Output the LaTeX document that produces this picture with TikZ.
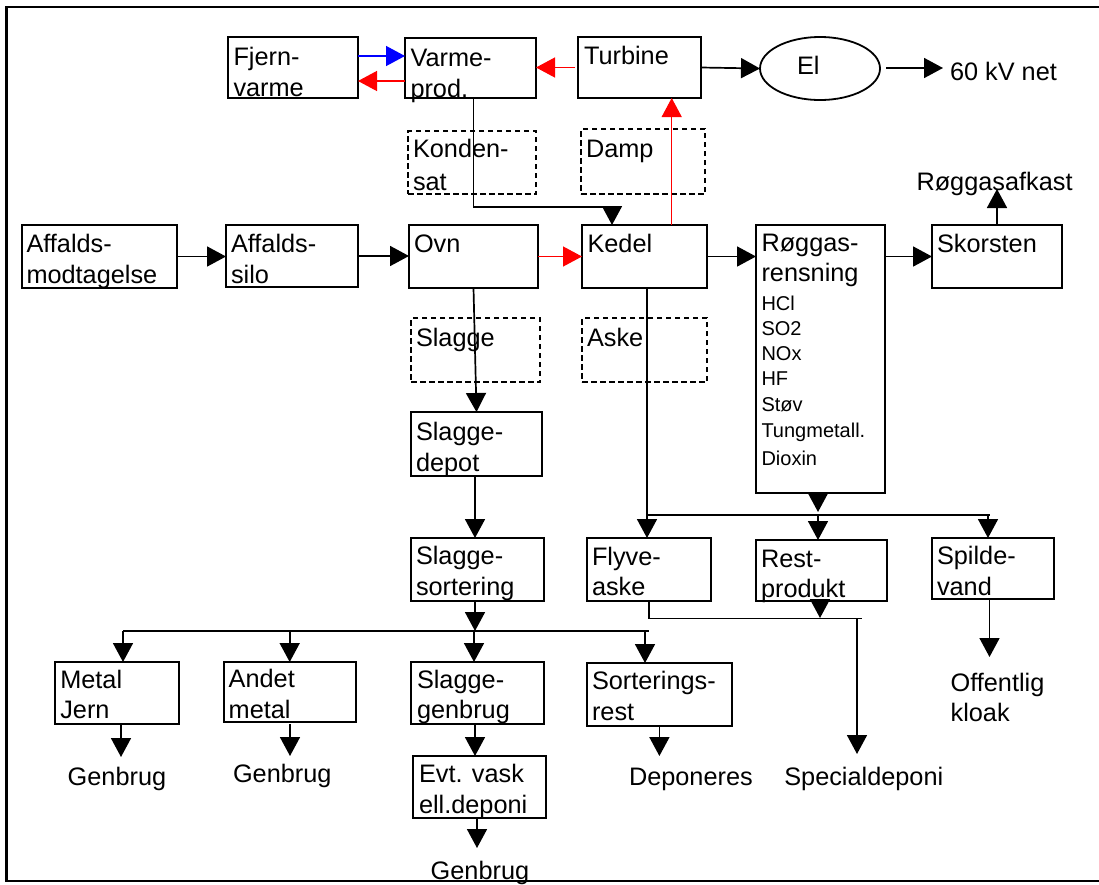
\documentclass[tikz,border=0pt]{standalone}
\usepackage{fontspec}
\setmainfont{Liberation Sans}
\usetikzlibrary{arrows.meta,calc,shapes.geometric}
\tikzset{
 box/.style={draw, line width=1.8pt, inner sep=0pt, outer sep=0pt},
 dbox/.style={box, line width=1.5pt, dash pattern=on 5.5pt off 3.5pt},
 txt/.style={inner sep=0pt, outer sep=0pt, anchor=base west, font=\fontsize{25.3}{30}\selectfont},
 stxt/.style={txt, font=\fontsize{20}{24}\selectfont},
 conn/.style={line width=1.7pt},
 arr/.style={conn, -{Triangle[length=19pt,width=20pt]}},
 redarr/.style={line width=1.3pt, red, -{Triangle[length=19pt,width=20pt]}},
 bluearr/.style={line width=1.4pt, blue, -{Triangle[length=19pt,width=20pt]}},
 frame/.style={line width=2.2pt}
}
\newcommand\mkbox[6]{\node[#6, minimum width={(#4)-(#2)}, minimum height={(#5)-(#3)}] (#1) at ({((#2)+(#4))/2},{((#3)+(#5))/2}) {};}
\newcommand\tx[4]{\node[txt] (#1) at (#2,#3) {#4};}
\newcommand\stx[4]{\node[stxt] (#1) at (#2,#3) {#4};}
\begin{document}
\begin{tikzpicture}[x=1pt,y=-1pt]
\useasboundingbox (0,0) rectangle (1099,884);
\draw[frame] (1099,7) -- (6.5,7) -- (6.5,881) -- (1099,881);

% boxes
\mkbox{fj}{228}{37}{358}{98}{box}
\mkbox{vp}{405}{38}{536}{98}{box}
\mkbox{tu}{578}{37}{701}{98}{box}
\mkbox{am}{22}{225}{177}{288}{box}
\mkbox{as}{226}{225}{358}{287}{box}
\mkbox{ov}{409}{225}{538}{288}{box}
\mkbox{ke}{582}{225}{707}{288}{box}
\mkbox{rg}{756}{225}{885}{493}{box}
\mkbox{sk}{932}{225}{1062}{288}{box}
\mkbox{sd}{411}{412}{542}{476}{box}
\mkbox{ss}{411}{538}{544}{601}{box}
\mkbox{fa}{587}{538}{711}{601}{box}
\mkbox{rp}{756}{540}{887}{601}{box}
\mkbox{sv}{932}{538}{1054}{599}{box}
\mkbox{mj}{55}{662}{179}{724}{box}
\mkbox{amt}{224}{662}{356}{722}{box}
\mkbox{sg}{411}{662}{544}{724}{box}
\mkbox{sr}{587}{663}{732}{726}{box}
\mkbox{ev}{413}{756}{546}{818}{box}
% dashed boxes
\mkbox{ko}{408}{131}{536}{194}{dbox}
\mkbox{da}{581}{129}{705}{194}{dbox}
\mkbox{sl}{411}{318}{540}{382}{dbox}
\mkbox{ak}{582}{318}{707}{382}{dbox}
% ellipse
\node[draw, ellipse, line width=1.8pt, inner sep=0pt, outer sep=0pt, minimum width=120pt, minimum height=63pt] (el) at (820,68.5) {};

% texts
\tx{tfj1}{233.5}{65}{Fjern-}
\tx{tfj2}{233.5}{96}{varme}
\tx{tvp1}{410.5}{66}{Varme-}
\tx{tvp2}{410.5}{97}{prod.}
\tx{ttu}{584}{64}{Turbine}
\tx{tel}{797}{74}{El}
\tx{net}{950}{80}{60 kV net}
\tx{tko1}{413}{157}{Konden-}
\tx{tko2}{413}{190}{sat}
\tx{tda}{586}{157}{Damp}
\tx{afk}{916.5}{190.7}{Røggasafkast}
\tx{tam1}{26.5}{252.5}{Affalds-}
\tx{tam2}{26.5}{283.5}{modtagelse}
\tx{tas1}{231}{252.5}{Affalds-}
\tx{tas2}{231}{283.5}{silo}
\tx{tov}{414}{252}{Ovn}
\tx{tke}{587.5}{252}{Kedel}
\tx{trg1}{761.5}{251.7}{Røggas-}
\tx{trg2}{761.5}{281.7}{rensning}
\stx{trg3}{761.5}{310}{HCl}
\stx{trg4}{761.5}{335}{SO2}
\stx{trg5}{761.5}{360}{NOx}
\stx{trg6}{761.5}{385}{HF}
\stx{trg7}{761.5}{411}{Støv}
\stx{trg8}{761.5}{437}{Tungmetall.}
\stx{trg9}{761.5}{465}{Dioxin}
\tx{tsk}{937}{252}{Skorsten}
\tx{tsl}{416}{346}{Slagge}
\tx{tak}{587}{346}{Aske}
\tx{tsd1}{416}{440}{Slagge-}
\tx{tsd2}{416}{471}{depot}
\tx{tss1}{416}{564}{Slagge-}
\tx{tss2}{416}{595}{sortering}
\tx{tfa1}{592}{565}{Flyve-}
\tx{tfa2}{592}{595}{aske}
\tx{trp1}{761}{567}{Rest-}
\tx{trp2}{761}{597}{produkt}
\tx{tsv1}{937}{564}{Spilde-}
\tx{tsv2}{937}{595}{vand}
\tx{tof1}{950.6}{691.7}{Offentlig}
\tx{tof2}{950.6}{721.7}{kloak}
\tx{tmj1}{60.3}{688}{Metal}
\tx{tmj2}{60.3}{718}{Jern}
\tx{tamt1}{228.7}{687.7}{Andet}
\tx{tamt2}{228.7}{718.3}{metal}
\tx{tsg1}{417}{688.3}{Slagge-}
\tx{tsg2}{417}{718.3}{genbrug}
\tx{tsr1}{592}{689.3}{Sorterings-}
\tx{tsr2}{592}{720}{rest}
\tx{tev1}{419}{782.7}{Evt. vask}
\tx{tev2}{419}{813.3}{ell.deponi}
\tx{gen1}{67.7}{785}{Genbrug}
\tx{gen2}{233}{782.7}{Genbrug}
\tx{gen3}{430.7}{879}{Genbrug}
\tx{dep}{629}{785}{Deponeres}
\tx{spd}{784.3}{785}{Specialdeponi}

% helper coordinates
\coordinate (netin) at (943,68);
\coordinate (elout) at (886,68);
\coordinate (afkin) at (997,189);
\coordinate (k1) at (473.5,207);
\coordinate (k2) at (620,207);
\coordinate (k3) at (612,207);
\coordinate (kt) at (671.7,0);
\coordinate (cs) at (475,0);
\coordinate (b1) at (123,631);
\coordinate (b2) at (649,631);
\coordinate (d2) at (289.7,631);
\coordinate (d3) at (474,631);
\coordinate (d4) at (645,631);
\coordinate (u1) at (647,515);
\coordinate (u2) at (990,515);
\coordinate (u3) at (818,515);
\coordinate (u4) at (988,515);
\coordinate (rgend) at (818,512);
\coordinate (w1) at (649,618.5);
\coordinate (w2) at (862,618.5);
\coordinate (w3) at (857,618.5);
\coordinate (spin) at (857,754);
\coordinate (rpend) at (820,618);
\coordinate (ofin) at (989.5,657);
\coordinate (g1) at (121,757);
\coordinate (g2) at (290,756);
\coordinate (g3) at (477,848);
\coordinate (g4) at (659.4,756);

% top connectors
\draw[bluearr] (fj.east |- 0,56) -- (vp.west |- 0,56);
\draw[redarr] (vp.west |- 0,81) -- (fj.east |- 0,81);
\draw[redarr] ($(tu.west)+(-3,0)$) -- (vp.east |- tu.west);
\draw[arr] (tu.east) -- (el.west);
\draw[arr] (elout) -- (netin);
\draw[conn] (vp.south -| k1) -- (k1) -- (k2);
\draw[arr] (k3) -- (ke.north -| k3);
\draw[redarr] (ke.north -| kt) -- (tu.south -| kt);

% main row
\draw[arr] (am.east) -- (as.west |- am.east);
\draw[arr] (as.east) -- (ov.west |- as.east);
\draw[redarr] (ov.east) -- (ke.west |- ov.east);
\draw[arr] (ke.east) -- (rg.west |- ke.east);
\draw[arr] (rg.east |- sk.west) -- (sk.west);
\draw[arr] (sk.north) -- (afkin);

% slag column
\draw[arr] (ov.south) -- (sd.north);
\draw[arr] (sd.south -| cs) -- (ss.north -| cs);
\draw[arr] (ss.south -| cs) -- (b1 -| cs);
\draw[conn] (b1) -- (b2);
\draw[arr] (b1) -- (mj.north -| b1);
\draw[arr] (d2) -- (amt.north -| d2);
\draw[arr] (d3) -- (sg.north -| d3);
\draw[arr] (d4) -- (sr.north -| d4);
\draw[arr] (mj.south -| g1) -- (g1);
\draw[arr] ($(amt.south -| g2)+(0,2)$) -- (g2);
\draw[arr] (sg.south -| cs) -- (ev.north -| cs);
\draw[arr] (ev.south -| g3) -- (g3);
\draw[arr] (sr.south -| g4) -- (g4);

% kedel / flue gas branch
\draw[conn] (ke.south -| u1) -- (u1) -- (u2);
\draw[arr] (u1) -- (fa.north -| u1);
\draw[arr] (rg.south -| rgend) -- (rgend);
\draw[arr] (u3) -- (rp.north -| u3);
\draw[arr] (u4) -- (sv.north -| u4);
\draw[arr] (rp.south -| rpend) -- (rpend);
\draw[conn] (fa.south -| w1) -- (w1) -- (w2);
\draw[arr] (w3) -- (spin);
\draw[arr] (sv.south -| ofin) -- (ofin);
\end{tikzpicture}
\end{document}
